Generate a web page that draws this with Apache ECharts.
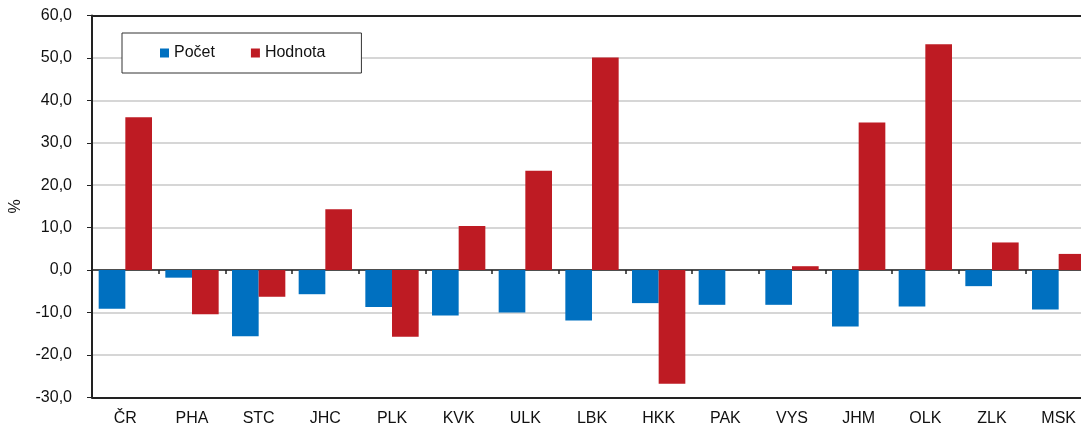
<!DOCTYPE html>
<html>
<head>
<meta charset="utf-8">
<script src="https://cdn.jsdelivr.net/npm/echarts@6/dist/echarts.min.js"></script>
<style>html,body{margin:0;padding:0;background:#fff;}#c{width:1081px;height:428px;}</style>
</head>
<body>
<div id="c"></div>
<script>
const categories = ['ČR','PHA','STC','JHC','PLK','KVK','ULK','LBK','HKK','PAK','VYS','JHM','OLK','ZLK','MSK'];
const pocet = [-9.1,-1.8,-15.6,-5.7,-8.7,-10.7,-10.0,-11.9,-7.8,-8.2,-8.2,-13.3,-8.6,-3.8,-9.3];
const hodnota = [36.0,-10.4,-6.3,14.3,-15.7,10.4,23.4,50.1,-26.8,0.0,0.9,34.8,53.2,6.5,3.8];
const yMin = -30, yMax = 60, yStep = 10;

const font = 'Liberation Sans, Arial, sans-serif';
const chart = echarts.init(document.getElementById('c'), null, {renderer:'canvas'});
chart.setOption({
  animation: false,
  backgroundColor: '#fff',
  grid: {left: 92, right: -11, top: 15.5, bottom: 30.7, outerBoundsMode: 'none', containLabel: false,
         show: false},
  graphic: [],
  legend: {
    left: 122, top: 33,
    padding: [12, 36, 12, 38],
    itemGap: 36, itemWidth: 9, itemHeight: 9,
    icon: 'rect',
    itemStyle: {borderWidth: 0},
    backgroundColor: '#fff', borderColor: '#333', borderWidth: 1,
    textStyle: {fontFamily: font, fontSize: 16, color: '#111'},
    data: ['Počet','Hodnota']
  },
  xAxis: [
    {type: 'category', data: categories, position: 'bottom',
     axisLine: {show: true, onZero: false, lineStyle: {color: '#222', width: 2}}, axisTick: {show: false},
     axisLabel: {fontFamily: font, fontSize: 16, color: '#111', margin: 13}},
    {type: 'category', data: categories, position: 'bottom',
     axisLine: {show: true, onZero: true, lineStyle: {color: '#222', width: 1.5}},
     axisTick: {show: true, inside: false, length: 4, lineStyle: {color: '#222', width: 1.5}},
     axisLabel: {show: false}},
    {type: 'category', data: categories, position: 'top',
     axisLine: {show: true, onZero: false, lineStyle: {color: '#222', width: 2}},
     axisTick: {show: false}, axisLabel: {show: false}}
  ],
  yAxis: {
    type: 'value', min: yMin, max: yMax, interval: yStep,
    name: '%', nameLocation: 'middle', nameGap: 68, nameRotate: 90,
    nameTextStyle: {fontFamily: font, fontSize: 16, color: '#111'},
    axisLine: {show: true, lineStyle: {color: '#222', width: 2}},
    axisTick: {show: true, length: 5, lineStyle: {color: '#222'}},
    axisLabel: {fontFamily: font, fontSize: 16, color: '#111', margin: 20,
      formatter: v => v.toFixed(1).replace('.', ',')},
    splitLine: {show: true, showMinLine: false, showMaxLine: false, lineStyle: {color: '#c8c8c8', width: 1.5}}
  },
  series: [
    {name: 'Počet', type: 'bar', xAxisIndex: 0, data: pocet, barGap: '0%', barCategoryGap: '20%',
     itemStyle: {color: '#0070C0'}},
    {name: 'Hodnota', type: 'bar', xAxisIndex: 0, data: hodnota, barGap: '0%', barCategoryGap: '20%',
     itemStyle: {color: '#BE1B23'}}
  ]
});
</script>
</body>
</html>
